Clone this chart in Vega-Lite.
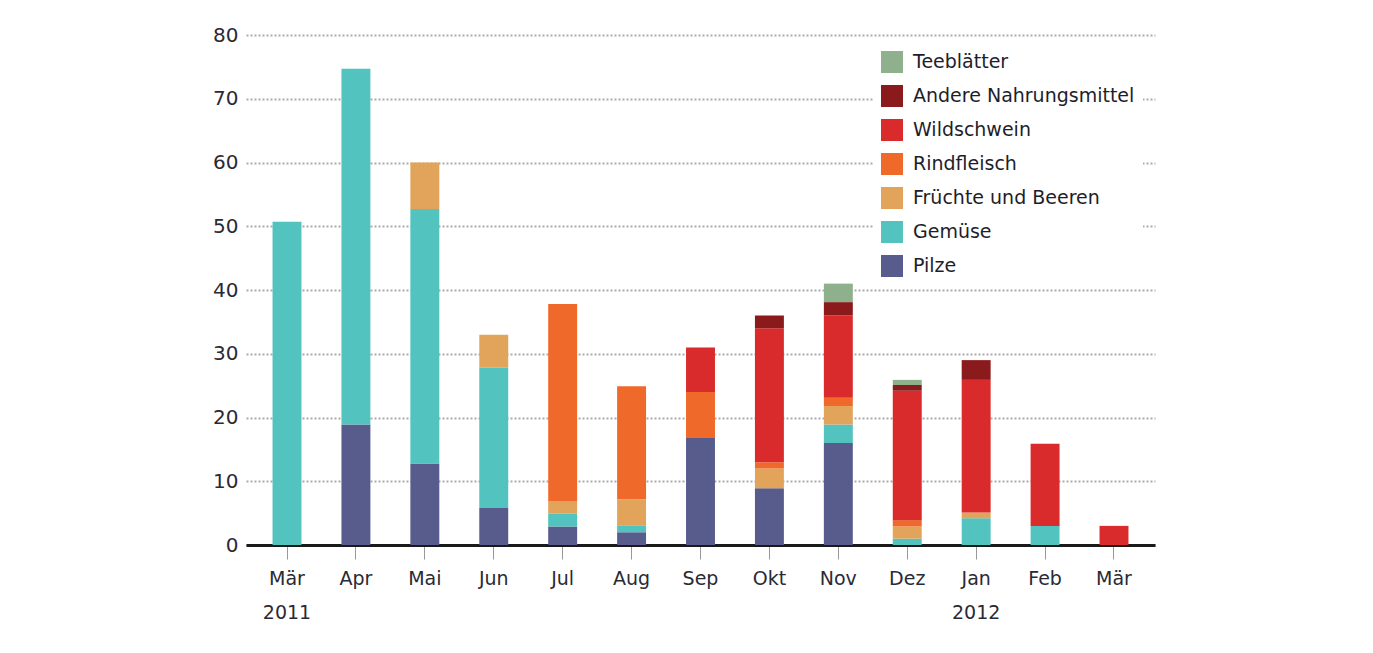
{
  "$schema": "https://vega.github.io/schema/vega-lite/v6.json",
  "width": 909,
  "height": 510,
  "autosize": {"type": "none"},
  "padding": {"left": 246, "top": 35, "right": 218, "bottom": 108},
  "background": "#ffffff",
  "config": {
    "view": {"stroke": null, "fill": "#ffffff"},
    "font": "DejaVu Sans"
  },
  "data": {
    "values": [
      {"monat": "Mär 2011", "kategorie": "Gemüse", "wert": 50.7},
      {"monat": "Apr", "kategorie": "Pilze", "wert": 18.9},
      {"monat": "Apr", "kategorie": "Gemüse", "wert": 55.8},
      {"monat": "Mai", "kategorie": "Pilze", "wert": 12.8},
      {"monat": "Mai", "kategorie": "Gemüse", "wert": 39.9},
      {"monat": "Mai", "kategorie": "Früchte und Beeren", "wert": 7.3},
      {"monat": "Jun", "kategorie": "Pilze", "wert": 5.8},
      {"monat": "Jun", "kategorie": "Gemüse", "wert": 22.0},
      {"monat": "Jun", "kategorie": "Früchte und Beeren", "wert": 5.2},
      {"monat": "Jul", "kategorie": "Pilze", "wert": 2.9},
      {"monat": "Jul", "kategorie": "Gemüse", "wert": 2.0},
      {"monat": "Jul", "kategorie": "Früchte und Beeren", "wert": 2.0},
      {"monat": "Jul", "kategorie": "Rindfleisch", "wert": 30.9},
      {"monat": "Aug", "kategorie": "Pilze", "wert": 2.0},
      {"monat": "Aug", "kategorie": "Gemüse", "wert": 1.0},
      {"monat": "Aug", "kategorie": "Früchte und Beeren", "wert": 4.2},
      {"monat": "Aug", "kategorie": "Rindfleisch", "wert": 17.7},
      {"monat": "Sep", "kategorie": "Pilze", "wert": 16.8},
      {"monat": "Sep", "kategorie": "Rindfleisch", "wert": 7.2},
      {"monat": "Sep", "kategorie": "Wildschwein", "wert": 7.0},
      {"monat": "Okt", "kategorie": "Pilze", "wert": 8.9},
      {"monat": "Okt", "kategorie": "Früchte und Beeren", "wert": 3.1},
      {"monat": "Okt", "kategorie": "Rindfleisch", "wert": 1.0},
      {"monat": "Okt", "kategorie": "Wildschwein", "wert": 21.0},
      {"monat": "Okt", "kategorie": "Andere Nahrungsmittel", "wert": 2.0},
      {"monat": "Nov", "kategorie": "Pilze", "wert": 16.0},
      {"monat": "Nov", "kategorie": "Gemüse", "wert": 2.9},
      {"monat": "Nov", "kategorie": "Früchte und Beeren", "wert": 2.9},
      {"monat": "Nov", "kategorie": "Rindfleisch", "wert": 1.3},
      {"monat": "Nov", "kategorie": "Wildschwein", "wert": 12.9},
      {"monat": "Nov", "kategorie": "Andere Nahrungsmittel", "wert": 2.1},
      {"monat": "Nov", "kategorie": "Teeblätter", "wert": 2.9},
      {"monat": "Dez", "kategorie": "Gemüse", "wert": 1.0},
      {"monat": "Dez", "kategorie": "Früchte und Beeren", "wert": 1.9},
      {"monat": "Dez", "kategorie": "Rindfleisch", "wert": 1.0},
      {"monat": "Dez", "kategorie": "Wildschwein", "wert": 20.3},
      {"monat": "Dez", "kategorie": "Andere Nahrungsmittel", "wert": 0.9},
      {"monat": "Dez", "kategorie": "Teeblätter", "wert": 0.8},
      {"monat": "Jan", "kategorie": "Gemüse", "wert": 4.2},
      {"monat": "Jan", "kategorie": "Früchte und Beeren", "wert": 0.9},
      {"monat": "Jan", "kategorie": "Wildschwein", "wert": 20.8},
      {"monat": "Jan", "kategorie": "Andere Nahrungsmittel", "wert": 3.1},
      {"monat": "Feb", "kategorie": "Gemüse", "wert": 3.0},
      {"monat": "Feb", "kategorie": "Wildschwein", "wert": 12.9},
      {"monat": "Mär 2012", "kategorie": "Wildschwein", "wert": 3.0}
    ]
  },
  "transform": [
    {"calculate": "indexof(['Pilze', 'Gemüse', 'Früchte und Beeren', 'Rindfleisch', 'Wildschwein', 'Andere Nahrungsmittel', 'Teeblätter'], datum.kategorie)", "as": "schicht"}
  ],
  "mark": {"type": "bar"},
  "encoding": {
    "x": {
      "field": "monat",
      "type": "nominal",
      "sort": ["Mär 2011", "Apr", "Mai", "Jun", "Jul", "Aug", "Sep", "Okt", "Nov", "Dez", "Jan", "Feb", "Mär 2012"],
      "scale": {"paddingInner": 0.58, "paddingOuter": 0.385},
      "axis": {
        "title": null,
        "labelAngle": 0,
        "labelExpr": "datum.value == 'Mär 2011' ? ['Mär', '2011'] : datum.value == 'Jan' ? ['Jan', '2012'] : datum.value == 'Mär 2012' ? 'Mär' : datum.value",
        "labelFontSize": 19,
        "labelColor": "#2a2a35",
        "labelLineHeight": 34,
        "labelPadding": 10,
        "domainColor": "#1a1a1a",
        "domainWidth": 3,
        "tickColor": "#999999",
        "tickSize": 14,
        "tickWidth": 1,
        "grid": false
      }
    },
    "y": {
      "field": "wert",
      "type": "quantitative",
      "aggregate": "sum",
      "stack": "zero",
      "scale": {"domain": [0, 80], "nice": false},
      "axis": {
        "title": null,
        "values": [0, 10, 20, 30, 40, 50, 60, 70, 80],
        "domain": false,
        "ticks": false,
        "labelFontSize": 20,
        "labelColor": "#2a2a35",
        "labelPadding": 8,
        "grid": true,
        "gridColor": "#aaaaaa",
        "gridDash": [2, 2],
        "gridWidth": 2
      }
    },
    "order": {"field": "schicht", "type": "quantitative", "sort": "ascending"},
    "color": {
      "field": "kategorie",
      "type": "nominal",
      "scale": {
        "domain": ["Teeblätter", "Andere Nahrungsmittel", "Wildschwein", "Rindfleisch", "Früchte und Beeren", "Gemüse", "Pilze"],
        "range": ["#8fb08c", "#8b1a1c", "#d92b2b", "#ef6a2a", "#e2a45b", "#52c3bf", "#575c8c"]
      },
      "legend": {
        "title": null,
        "orient": "none",
        "legendX": 627,
        "legendY": 8,
        "padding": 8,
        "fillColor": "#ffffff",
        "symbolType": "square",
        "symbolSize": 484,
        "symbolStrokeWidth": 0,
        "symbolOpacity": 1,
        "labelFontSize": 19,
        "labelColor": "#1e1e2a",
        "labelOffset": 10,
        "rowPadding": 12,
        "labelLimit": 400
      }
    }
  }
}
